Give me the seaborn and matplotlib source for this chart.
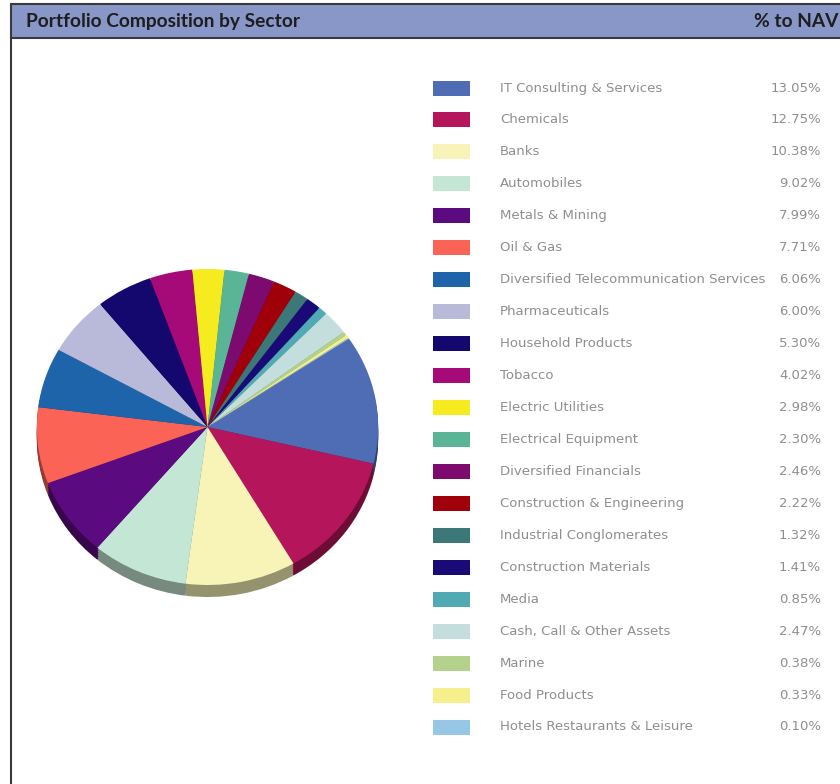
import matplotlib
matplotlib.use("Agg")
import matplotlib.pyplot as plt
import seaborn as sns
import numpy as np
from matplotlib.patches import Rectangle
from matplotlib.colors import to_rgb

sectors = [
    "IT Consulting & Services", "Chemicals", "Banks", "Automobiles",
    "Metals & Mining", "Oil & Gas", "Diversified Telecommunication Services",
    "Pharmaceuticals", "Household Products", "Tobacco", "Electric Utilities",
    "Electrical Equipment", "Diversified Financials", "Construction & Engineering",
    "Industrial Conglomerates", "Construction Materials", "Media",
    "Cash, Call & Other Assets", "Marine", "Food Products",
    "Hotels Restaurants & Leisure",
]
values = [13.05, 12.75, 10.38, 9.02, 7.99, 7.71, 6.06, 6.00, 5.30, 4.02, 2.98,
          2.30, 2.46, 2.22, 1.32, 1.41, 0.85, 2.47, 0.38, 0.33, 0.10]
value_labels = ["13.05%", "12.75%", "10.38%", "9.02%", "7.99%", "7.71%", "6.06%",
                "6.00%", "5.30%", "4.02%", "2.98%", "2.30%", "2.46%", "2.22%",
                "1.32%", "1.41%", "0.85%", "2.47%", "0.38%", "0.33%", "0.10%"]
colors = ["#4F6DB5", "#B5155A", "#F8F4B8", "#C4E6D4", "#5C0A80", "#FA6355",
          "#1E64AA", "#B9B9DA", "#14086E", "#A50A78", "#F5EB1E", "#5AB496",
          "#7D0A6E", "#A0000A", "#3C7878", "#1A0A78", "#50AAB4", "#C3DEDC",
          "#B4D28C", "#F5F08C", "#96C8E6"]
title_left = "Portfolio Composition by Sector"
title_right = "% to NAV"

sns.set_theme(style="white")
plt.rcParams["font.family"] = ["DejaVu Sans"]
palette = sns.color_palette(colors)

W, H = 840, 784
fig = plt.figure(figsize=(W / 100, H / 100), dpi=100)
fig.patch.set_facecolor("white")

# overlay axes in pixel coordinates
ov = fig.add_axes([0, 0, 1, 1])
ov.set_xlim(0, W)
ov.set_ylim(H, 0)
ov.axis("off")

# header band
ov.add_patch(Rectangle((11, 4), W - 11, 33, facecolor="#8896C8", edgecolor="none"))
ov.plot([11, W], [4, 4], color="#3a3a3a", lw=1.5)
ov.plot([11, W], [37.5, 37.5], color="#3a3a3a", lw=1.5)
ov.plot([11, 11], [4, H], color="#3a3a3a", lw=1.5)
ov.text(26, 21, title_left, fontsize=13.8, fontweight="bold", color="#1e1e1e",
        va="center", ha="left", family=["Lato", "DejaVu Sans"])
ov.text(838, 21, title_right, fontsize=13.8, fontweight="bold", color="#1e1e1e",
        va="center", ha="right", family=["Lato", "DejaVu Sans"])

# legend
y0, dy = 88, 31.95
for i, (lab, vl, c) in enumerate(zip(sectors, value_labels, palette)):
    y = y0 + i * dy
    ov.add_patch(Rectangle((433, y - 7.5), 37, 15, facecolor=c, edgecolor="none"))
    ov.text(500, y, lab, fontsize=9.5, color="#8e8e8e", va="center", ha="left")
    ov.text(821, y, vl, fontsize=9.5, color="#8e8e8e", va="center", ha="right")

# pie axes (pixel box x 30..385, y 262..610)
px0, px1, py0, py1 = 30, 385, 262, 610
ax = fig.add_axes([px0 / W, 1 - py1 / H, (px1 - px0) / W, (py1 - py0) / H])
sy = 158.0                   # px per unit vertically
ytop = (427 - py0) / sy

dark = [tuple(np.array(to_rgb(c)) * 0.6) for c in palette]
rim_off = 12 / sy
for k in np.linspace(rim_off, 0.0, 7)[:-1]:
    ax.pie(values, colors=dark, startangle=34, counterclock=False,
           center=(0, -k), radius=1.0, frame=True,
           wedgeprops=dict(linewidth=0, antialiased=True))
ax.pie(values, colors=palette, startangle=34, counterclock=False,
       center=(0, 0), radius=1.0, frame=True,
       wedgeprops=dict(linewidth=0, antialiased=True))
ax.set_xlim(-1.04, 1.04)
ax.set_ylim(ytop - (py1 - py0) / sy, ytop)
ax.set_aspect("auto")
ax.axis("off")

fig.savefig("out.png", dpi=100, facecolor="white")
